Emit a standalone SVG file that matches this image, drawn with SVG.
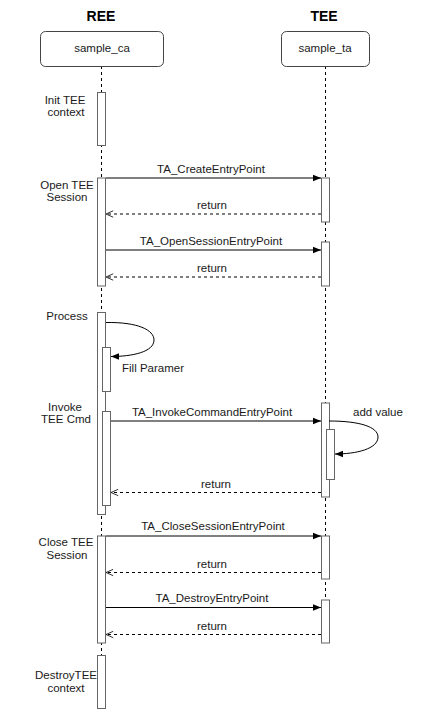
<svg xmlns="http://www.w3.org/2000/svg" width="440" height="720" viewBox="0 0 440 720">
<style>
text{font-family:"Liberation Sans",Arial,sans-serif;font-size:11.5px;fill:#1a1a1a}
.title{font-size:14px;font-weight:bold;fill:#000}
.mid{text-anchor:middle}
.head{fill:#fff;stroke:#444;stroke-width:1}
.life{stroke:#000;stroke-width:1;stroke-dasharray:3 3;fill:none}
.act{fill:#fff;stroke:#666;stroke-width:1}
.call{stroke:#000;stroke-width:1;fill:none;marker-end:url(#fill)}
.ret{stroke:#000;stroke-width:1;fill:none;stroke-dasharray:3 3;marker-end:url(#open)}
</style>
<defs>
<marker id="fill" viewBox="0 0 10 10" refX="10" refY="5" markerWidth="8" markerHeight="8" markerUnits="userSpaceOnUse" orient="auto">
<path d="M0,1 L10,5 L0,9 Z" fill="#000"/>
</marker>
<marker id="open" viewBox="0 0 10 10" refX="10" refY="5" markerWidth="8" markerHeight="8" markerUnits="userSpaceOnUse" orient="auto">
<path d="M1,1 L10,5 L1,9" fill="none" stroke="#000" stroke-width="1"/>
</marker>
</defs>
<text class="title mid" x="101" y="21">REE</text>
<text class="title mid" x="324" y="21">TEE</text>
<g id="lifelines">
<line class="life" x1="101.5" y1="66" x2="101.5" y2="655"/>
<line class="life" x1="325.5" y1="66" x2="325.5" y2="600"/>
</g>
<g id="sample_ca">
<rect class="head" x="40.5" y="31.5" width="123" height="35" rx="5"/>
<text class="mid" x="102" y="52">sample_ca</text>
</g>
<g id="sample_ta">
<rect class="head" x="281.5" y="31.5" width="88" height="35" rx="5"/>
<text class="mid" x="325" y="52">sample_ta</text>
</g>
<g id="activations">
<rect class="act" x="97.5" y="92.5" width="8" height="53"/>
<rect class="act" x="97.5" y="178" width="8" height="108"/>
<rect class="act" x="321.5" y="178" width="8" height="44"/>
<rect class="act" x="321.5" y="242" width="8" height="44"/>
<rect class="act" x="97.5" y="312.5" width="8" height="202"/>
<rect class="act" x="102.5" y="347.5" width="8" height="44"/>
<rect class="act" x="102.5" y="411.5" width="8" height="94"/>
<rect class="act" x="321.5" y="403" width="8" height="94"/>
<rect class="act" x="326.5" y="429.5" width="8" height="50"/>
<rect class="act" x="97.5" y="536" width="8" height="107"/>
<rect class="act" x="321.5" y="536" width="8" height="43"/>
<rect class="act" x="321.5" y="600" width="8" height="43"/>
<rect class="act" x="97.5" y="655.5" width="8" height="53"/>
</g>
<g id="notes">
<text class="mid" x="65" y="104">Init TEE</text>
<text class="mid" x="66" y="116">context</text>
<text class="mid" x="67" y="189">Open TEE</text>
<text class="mid" x="67" y="201">Session</text>
<text class="mid" x="67" y="320">Process</text>
<text class="mid" x="65" y="411">Invoke</text>
<text class="mid" x="66" y="423">TEE Cmd</text>
<text class="mid" x="66" y="546">Close TEE</text>
<text class="mid" x="67" y="559">Session</text>
<text class="mid" x="66" y="679">DestroyTEE</text>
<text class="mid" x="66" y="692">context</text>
</g>
<g id="connectors">
<line class="call" x1="106" y1="178" x2="321" y2="178"/>
<text class="mid" x="211" y="173">TA_CreateEntryPoint</text>
<line class="ret" x1="321" y1="214" x2="106" y2="214"/>
<text class="mid" x="212" y="209">return</text>
<line class="call" x1="106" y1="250" x2="321" y2="250"/>
<text class="mid" x="211" y="245">TA_OpenSessionEntryPoint</text>
<line class="ret" x1="321" y1="277" x2="106" y2="277"/>
<text class="mid" x="212" y="272">return</text>
<path class="call" d="M106,322.5 C138,322 154,330 154,340 C154,352 132,356.5 111,356.5"/>
<text x="122" y="372">Fill Paramer</text>
<line class="call" x1="111" y1="421" x2="321" y2="421"/>
<text class="mid" x="212" y="416">TA_InvokeCommandEntryPoint</text>
<path class="call" d="M329,421 C360,421 378,427 378,437 C378,449 356,454 335,454"/>
<text x="353" y="416">add value</text>
<line class="ret" x1="321" y1="492.5" x2="111" y2="492.5"/>
<text class="mid" x="216" y="488">return</text>
<line class="call" x1="106" y1="536" x2="321" y2="536"/>
<text class="mid" x="213" y="530">TA_CloseSessionEntryPoint</text>
<line class="ret" x1="321" y1="572.5" x2="106" y2="572.5"/>
<text class="mid" x="212" y="568">return</text>
<line class="call" x1="106" y1="607.5" x2="321" y2="607.5"/>
<text class="mid" x="212" y="602">TA_DestroyEntryPoint</text>
<line class="ret" x1="321" y1="634.5" x2="106" y2="634.5"/>
<text class="mid" x="212" y="630">return</text>
</g>
</svg>
